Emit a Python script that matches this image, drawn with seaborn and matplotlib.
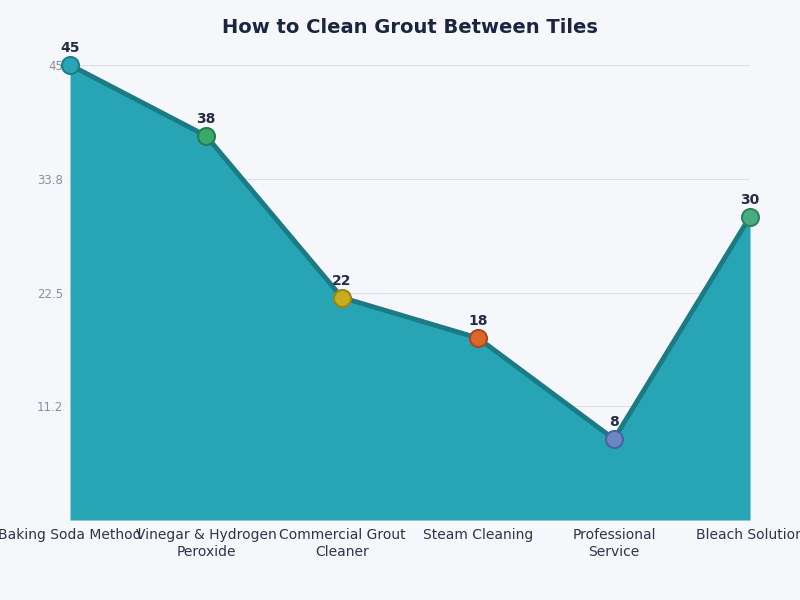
import matplotlib
matplotlib.use('Agg')
import matplotlib.pyplot as plt
import pandas as pd
import seaborn as sns

methods = ["Baking Soda Method", "Vinegar & Hydrogen\nPeroxide", "Commercial Grout\nCleaner",
           "Steam Cleaning", "Professional\nService", "Bleach Solution"]
scores = [45, 38, 22, 18, 8, 30]
marker_colors = ["#2aa5b5", "#3aa86a", "#c9ad1e", "#dc672c", "#6c86c4", "#4bab80"]
marker_edges = ["#1c7f8c", "#22804a", "#9c8512", "#a94a1c", "#4a63a0", "#2f8460"]
y_ticks = [11.25, 22.5, 33.75, 45]

df = pd.DataFrame({"method": methods, "score": scores, "pos": range(len(methods))})

sns.set_style("white")
plt.rcParams['font.family'] = ['DejaVu Sans']

fig = plt.figure(figsize=(8, 6), dpi=100, facecolor="#f5f7fb")
ax = fig.add_axes([0.0875, 0.1333, 0.85, 0.7584])
ax.set_facecolor("#f5f7fb")

ax.fill_between(df["pos"], df["score"], 0, color="#27a5b4", zorder=2, linewidth=0)
sns.lineplot(data=df, x="pos", y="score", ax=ax, color="#1b7a84", linewidth=3.5, zorder=3)
for i, row in df.iterrows():
    ax.scatter(row["pos"], row["score"], s=150, color=marker_colors[i],
               edgecolor=marker_edges[i], linewidth=1.5, zorder=4, clip_on=False)
    ax.annotate(str(row["score"]), (row["pos"], row["score"]), xytext=(0, 7),
                textcoords="offset points", ha="center", va="bottom",
                fontsize=10, fontweight="bold", color="#252d45", zorder=5)

ax.set_xlim(0, len(methods) - 1)
ax.set_ylim(0, 45)
ax.set_xticks(df["pos"])
ax.set_xticklabels(methods, fontsize=10, color="#2d3548")
ax.set_yticks(y_ticks)
ax.set_yticklabels([f"{v:.1f}".rstrip("0").rstrip(".") for v in y_ticks], fontsize=8.5, color="#8a8f9c")
ax.tick_params(axis="x", length=0, pad=6)
ax.tick_params(axis="y", length=0, pad=5)
ax.yaxis.grid(True, color="#dcdfe5", linewidth=0.8, zorder=0)
ax.set_axisbelow(True)
ax.set_xlabel("")
ax.set_ylabel("")
sns.despine(ax=ax, left=True, bottom=True)

ax.set_title("How to Clean Grout Between Tiles", fontsize=14, fontweight="bold",
             color="#1b2540", pad=23)

fig.savefig("out.png", dpi=100, facecolor=fig.get_facecolor())
